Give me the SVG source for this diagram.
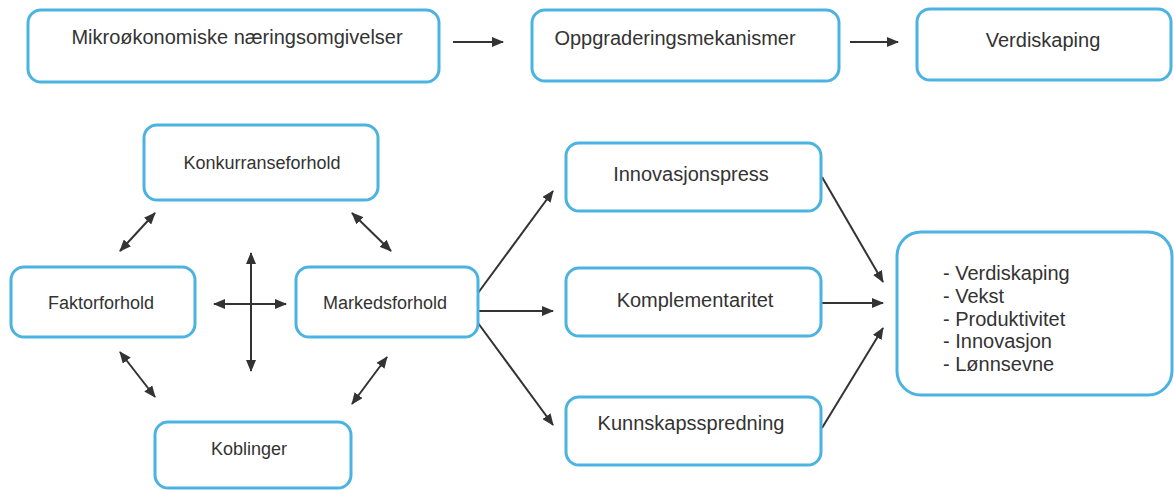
<svg xmlns="http://www.w3.org/2000/svg" width="1174" height="490" viewBox="0 0 1174 490">
<style>
.box{fill:#fff;stroke:#4bb3e2;stroke-width:3}
.t{font-family:"Liberation Sans",Arial,sans-serif;fill:#333;text-anchor:middle}
.big{font-size:20px}
.sm{font-size:18px}
.list{font-family:"Liberation Sans",Arial,sans-serif;fill:#333;font-size:20px}
.c{stroke:#333;stroke-width:2;fill:none}
.one{marker-end:url(#ah)}
.two{marker-start:url(#ah);marker-end:url(#ah)}
</style>
<defs>
<marker id="ah" viewBox="0 0 12 10" refX="11" refY="5" markerWidth="12" markerHeight="10" markerUnits="userSpaceOnUse" orient="auto-start-reverse">
<path d="M0,0 L12,5 L0,10 z" fill="#333"/>
</marker>
</defs>
<rect width="1174" height="490" fill="#fff"/>
<g id="connectors">
<line class="c one" x1="453" y1="42" x2="503" y2="42"/>
<line class="c one" x1="850" y1="42" x2="898" y2="42"/>
<line class="c two" x1="155" y1="213" x2="120" y2="251"/>
<line class="c two" x1="352" y1="213" x2="391" y2="251"/>
<line class="c two" x1="120" y1="352" x2="155" y2="397"/>
<line class="c two" x1="387" y1="357" x2="352" y2="404"/>
<line class="c two" x1="214" y1="304" x2="286" y2="304"/>
<line class="c two" x1="251" y1="253" x2="251" y2="371"/>
<line class="c one" x1="478" y1="293" x2="553" y2="191"/>
<line class="c one" x1="478" y1="311" x2="553" y2="311"/>
<line class="c one" x1="478" y1="323" x2="553" y2="425"/>
<line class="c one" x1="822" y1="177" x2="883" y2="282"/>
<line class="c one" x1="822" y1="303" x2="883" y2="303"/>
<line class="c one" x1="822" y1="428" x2="883" y2="328"/>
</g>
<g id="mikro"><rect class="box" x="28" y="10" width="411" height="72" rx="13"/><text class="t big" x="237" y="44">Mikroøkonomiske næringsomgivelser</text></g>
<g id="oppgradering"><rect class="box" x="532" y="10" width="307" height="71" rx="13"/><text class="t big" x="675" y="45">Oppgraderingsmekanismer</text></g>
<g id="verdiskaping"><rect class="box" x="917" y="9" width="254" height="71" rx="13"/><text class="t big" x="1043" y="47">Verdiskaping</text></g>
<g id="konkurranse"><rect class="box" x="144" y="125" width="234" height="75" rx="13"/><text class="t sm" x="262" y="169">Konkurranseforhold</text></g>
<g id="faktor"><rect class="box" x="11" y="267" width="184" height="70" rx="13"/><text class="t sm" x="101" y="309">Faktorforhold</text></g>
<g id="markeds"><rect class="box" x="296" y="267" width="182" height="70" rx="13"/><text class="t sm" x="385" y="309">Markedsforhold</text></g>
<g id="koblinger"><rect class="box" x="155" y="422" width="196" height="66" rx="13"/><text class="t sm" x="249" y="455">Koblinger</text></g>
<g id="innovasjonspress"><rect class="box" x="566" y="143" width="255" height="68" rx="13"/><text class="t big" x="691" y="181">Innovasjonspress</text></g>
<g id="komplementaritet"><rect class="box" x="566" y="268" width="255" height="68" rx="13"/><text class="t big" x="695" y="307">Komplementaritet</text></g>
<g id="kunnskap"><rect class="box" x="566" y="397" width="255" height="68" rx="13"/><text class="t big" x="691" y="430">Kunnskapsspredning</text></g>
<g id="resultat"><rect class="box" x="897" y="232" width="275" height="163" rx="24"/>
<text class="list" x="943" y="280">- Verdiskaping</text>
<text class="list" x="943" y="303">- Vekst</text>
<text class="list" x="943" y="326">- Produktivitet</text>
<text class="list" x="943" y="348">- Innovasjon</text>
<text class="list" x="943" y="371">- Lønnsevne</text>
</g>
</svg>
